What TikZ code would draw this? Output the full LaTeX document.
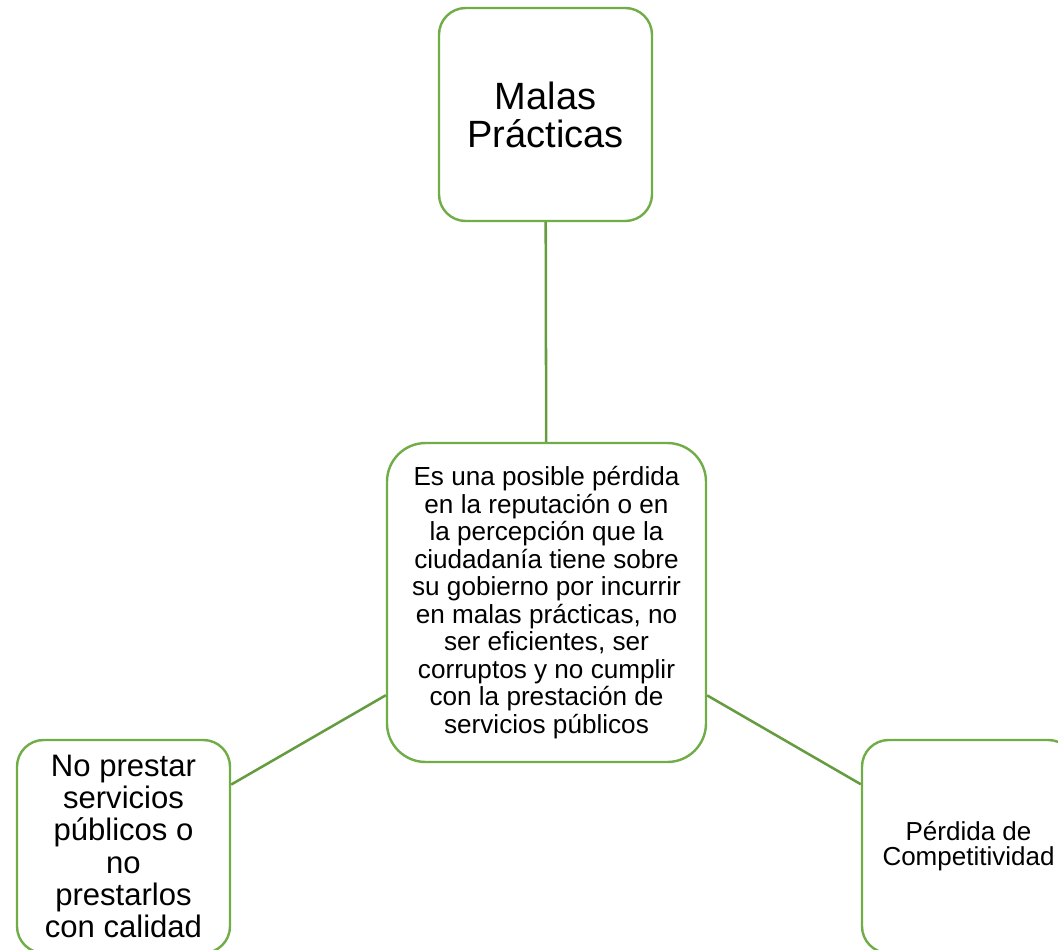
\documentclass[tikz,border=0pt]{standalone}
\usepackage{fontspec}
\setmainfont{Liberation Sans}
\usepackage{tikz}
\definecolor{accgreen}{HTML}{70AD47}

\begin{document}
\begin{tikzpicture}[
    x=0.75pt, y=-0.75pt,
    box/.style={draw=accgreen, line width=1.8pt, fill=white, align=center, inner sep=0pt},
    smallbox/.style={box, minimum width=159.75pt, minimum height=159.75pt, rounded corners=20pt},
    bigbox/.style={box, minimum width=239.25pt, minimum height=239.25pt, rounded corners=29pt},
    link/.style={draw=accgreen!90!black, line width=1.9pt}
  ]
    \clip (0,0) rectangle (1058,950);
    \node[smallbox, font=\fontsize{28.5}{28.5}\selectfont] (malas) at (545.5,114.5) {Malas\\Prácticas};
    \node[bigbox, font=\fontsize{19.6}{20.6}\selectfont] (riesgo) at (546.5,602.5)
      {Es una posible pérdida\\en la reputación o en\\la percepción que la\\ciudadanía tiene sobre\\su gobierno por incurrir\\en malas prácticas, no\\ser eficientes, ser\\corruptos y no cumplir\\con la prestación de\\servicios públicos};
    \node[smallbox, font=\fontsize{23.3}{24.2}\selectfont] (servicios) at (123.5,846.5)
      {No prestar\\servicios\\públicos o\\no\\prestarlos\\con calidad};
    \node[smallbox, font=\fontsize{19.5}{18.75}\selectfont] (competencia) at (968.5,846.5)
      {Pérdida de\\Competitividad};
    \draw[link] (malas) -- (riesgo);
    \draw[link] (riesgo) -- (servicios);
    \draw[link] (riesgo) -- (competencia);
  \end{tikzpicture}
\end{document}
